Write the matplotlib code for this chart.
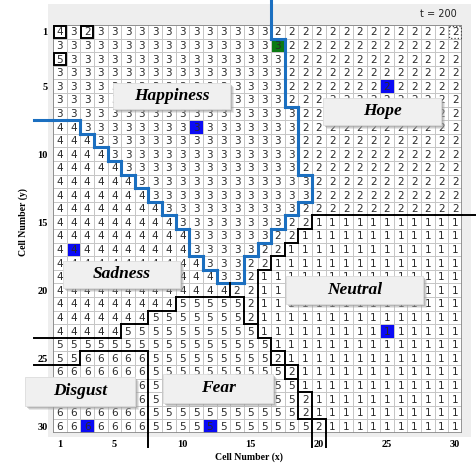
import numpy as np
import matplotlib.pyplot as plt
from matplotlib.colors import ListedColormap
from matplotlib.collections import LineCollection
from matplotlib.patches import Rectangle

# emotion value of every cell, row by row (row 1 at top), as runs of (value, count)
grid_runs = [
    [(4, 1), (3, 1), (2, 1), (3, 13), (2, 14)],
    [(3, 17), (2, 13)],
    [(5, 1), (3, 16), (2, 13)],
    [(3, 17), (2, 13)],
    [(3, 17), (2, 13)],
    [(3, 17), (2, 13)],
    [(3, 18), (2, 12)],
    [(4, 2), (3, 16), (2, 12)],
    [(4, 3), (3, 15), (2, 12)],
    [(4, 4), (3, 14), (2, 12)],
    [(4, 5), (3, 13), (2, 12)],
    [(4, 6), (3, 13), (2, 11)],
    [(4, 7), (3, 12), (2, 11)],
    [(4, 8), (3, 10), (2, 12)],
    [(4, 9), (3, 8), (2, 2), (1, 11)],
    [(4, 10), (3, 6), (2, 2), (1, 12)],
    [(4, 10), (3, 5), (2, 2), (1, 13)],
    [(4, 11), (3, 3), (2, 2), (1, 14)],
    [(4, 12), (3, 2), (2, 1), (1, 15)],
    [(4, 13), (2, 2), (1, 15)],
    [(4, 9), (5, 5), (2, 1), (1, 15)],
    [(4, 7), (5, 7), (2, 1), (1, 15)],
    [(4, 5), (5, 10), (1, 15)],
    [(5, 16), (1, 14)],
    [(5, 2), (6, 5), (5, 9), (2, 1), (1, 13)],
    [(6, 7), (5, 10), (2, 1), (1, 12)],
    [(6, 7), (5, 11), (1, 12)],
    [(6, 7), (5, 11), (2, 1), (1, 11)],
    [(6, 7), (5, 11), (2, 1), (1, 11)],
    [(6, 7), (5, 12), (2, 1), (1, 10)],
]

# special cells as (row, col)
boxed_cells = [(1, 1), (1, 3), (3, 1)]
dotted_cells = [(1, 30)]
blue_cells = [(5, 25), (8, 11), (17, 2), (23, 25), (30, 3), (30, 12)]
green_cells = [(2, 17)]

tick_pos = [1, 5, 10, 15, 20, 25, 30]

label_names = ["Happiness", "Hope", "Sadness", "Neutral", "Disgust", "Fear"]
label_boxes = [  # x0, y0, x1, y1 in cell units
    (4.40, 4.26, 12.99, 6.18),
    (19.81, 5.37, 28.47, 7.35),
    (0.73, 17.35, 9.32, 19.34),
    (17.09, 18.46, 27.15, 20.51),
    (-2.05, 25.88, 6.02, 28.01),
    (8.07, 25.66, 16.14, 27.79),
]

vals = np.array([[v for v, n in row for _ in range(n)] for row in grid_runs])
n = vals.shape[0]

fig = plt.figure(figsize=(4.76, 4.68), dpi=100)
fig.patches.append(Rectangle((48 / 476, 31 / 468), 423 / 476, 433 / 468,
                             transform=fig.transFigure, facecolor="#eeeeee",
                             edgecolor="none", zorder=0))
ax = fig.add_axes([53 / 476, 35 / 468, 409 / 476, 408 / 468])
ax.set_zorder(2)
ax.set_xlim(0, n)
ax.set_ylim(n, 0)
for s in ax.spines.values():
    s.set_visible(False)

# cell colours
kind = np.zeros_like(vals)
for r, c in blue_cells:
    kind[r - 1, c - 1] = 1
for r, c in green_cells:
    kind[r - 1, c - 1] = 2
cmap = ListedColormap(["white", "#0a0af5", "#0b7a12"])
ax.pcolormesh(np.arange(n + 1), np.arange(n + 1), kind, cmap=cmap, vmin=0, vmax=2,
              edgecolors="#c6c6c6", linewidth=0.6, zorder=1)
ax.add_patch(Rectangle((0, 0), n, n, fill=False, edgecolor="#8c8c8c", lw=1.3, zorder=2))

for i in range(n):
    for j in range(n):
        ax.text(j + 0.5, i + 0.55, str(vals[i, j]), ha="center", va="center",
                fontsize=7.5, color="#2a2a2a", zorder=3)

for r, c in boxed_cells:
    ax.add_patch(Rectangle((c - 1 + 0.05, r - 1 + 0.05), 0.9, 0.9, fill=False,
                           edgecolor="black", lw=1.4, zorder=4))
for r, c in dotted_cells:
    ax.add_patch(Rectangle((c - 1 + 0.08, r - 1 + 0.08), 0.84, 0.84, fill=False,
                           edgecolor="#444444", lw=0.9, linestyle=":", zorder=4))

# region borders: blue around Happiness (3), black elsewhere
region = vals.copy()
for r, c in boxed_cells:
    region[r - 1, c - 1] = 3
blue_segs, black_segs = [], []


def add_edge(a, b, seg):
    if a != b:
        (blue_segs if 3 in (a, b) else black_segs).append(seg)


for i in range(n):
    for j in range(n - 1):
        add_edge(region[i, j], region[i, j + 1], [(j + 1, i), (j + 1, i + 1)])
for i in range(n - 1):
    for j in range(n):
        add_edge(region[i, j], region[i + 1, j], [(j, i + 1), (j + 1, i + 1)])

# extend borders that reach the grid edge outward
for segs in (blue_segs, black_segs):
    extra = []
    for (x0, y0), (x1, y1) in segs:
        if x0 == x1 and y0 == 0:
            extra.append([(x0, 0), (x0, -1.8)])
        if x0 == x1 and y1 == n:
            extra.append([(x0, n), (x0, n + 1.05)])
        if y0 == y1 and x0 == 0:
            extra.append([(0, y0), (-1.4, y0)])
        if y0 == y1 and x1 == n:
            extra.append([(n, y0), (n + 1.5, y0)])
    segs.extend(extra)

ax.add_collection(LineCollection(blue_segs, colors="#1b6fc0", linewidths=2.2,
                                 capstyle="projecting", zorder=5, clip_on=False))
ax.add_collection(LineCollection(black_segs, colors="black", linewidths=1.4,
                                 capstyle="projecting", zorder=5, clip_on=False))

# region name boxes
for name, (x0, y0, x1, y1) in zip(label_names, label_boxes):
    for k, a in enumerate([0.25, 0.35, 0.5]):
        off = 0.3 - 0.08 * k
        ax.add_patch(Rectangle((x0 + off, y0 + off), x1 - x0, y1 - y0,
                               facecolor="#a0a0a0", edgecolor="none", alpha=a,
                               zorder=6, clip_on=False))
    ax.add_patch(Rectangle((x0, y0), x1 - x0, y1 - y0, facecolor="#f0f0f0",
                           edgecolor="#dcdcdc", lw=0.6, zorder=7, clip_on=False))
    ax.text((x0 + x1) / 2, (y0 + y1) / 2, name, ha="center", va="center",
            fontsize=12.5, family="Liberation Serif", weight="bold", style="italic",
            zorder=8, clip_on=False)

tick_font = dict(family="Liberation Serif", weight="bold", size=7.5)
ax.set_xticks([p - 0.5 for p in tick_pos])
ax.set_xticklabels([str(p) for p in tick_pos], **tick_font)
ax.set_yticks([p - 0.5 for p in tick_pos])
ax.set_yticklabels([str(p) for p in tick_pos], **tick_font)
ax.tick_params(axis="x", length=0, pad=5)
ax.tick_params(axis="y", length=0, pad=4)

fig.text(249 / 476, 1 - 457 / 468, "Cell Number (x)", ha="center", va="center",
         family="Liberation Serif", weight="bold", size=7)
fig.text(23 / 476, 1 - 222 / 468, "Cell Number (y)", ha="center", va="center",
         rotation=90, family="Liberation Serif", weight="bold", size=7)
fig.text(457 / 476, 1 - 14 / 468, "t = 200", ha="right", va="center",
         family="DejaVu Sans", size=7, color="#222222")

fig.savefig("out.png", dpi=100)
